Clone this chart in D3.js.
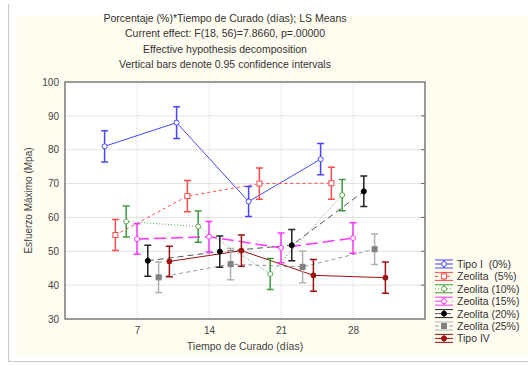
<!DOCTYPE html>
<html>
<head>
<meta charset="utf-8">
<script src="https://cdn.jsdelivr.net/npm/d3@7"></script>
<style>
body { margin: 0; background: #fff; }
text { font-family: "Liberation Sans", Arial, sans-serif; white-space: pre; }
</style>
</head>
<body>
<svg id="chart"></svg>
<script>
// tiempo de curado (días)
var days = [7, 14, 21, 28];
var yTicks = [30, 40, 50, 60, 70, 80, 90, 100];
var xTicks = [7, 14, 21, 28];

var seriesNames = ["Tipo I  (0%)", "Zeolita  (5%)", "Zeolita (10%)", "Zeolita (15%)", "Zeolita (20%)", "Zeolita (25%)", "Tipo IV"];

// LS means + half width of 0.95 CI
var tipo1 = [81.0, 88.0, 64.7, 77.2];
var tipo1Err = [4.6, 4.7, 4.4, 4.6];
var zeo5 = [54.8, 66.3, 70.0, 70.1];
var zeo5Err = [4.6, 4.6, 4.6, 4.7];
var zeo10 = [58.8, 57.3, 43.3, 66.6];
var zeo10Err = [4.6, 4.6, 4.6, 4.6];
var zeo15 = [53.6, 54.3, 51.0, 53.9];
var zeo15Err = [4.5, 4.5, 4.4, 4.5];
var zeo20 = [47.2, 49.9, 51.8, 67.7];
var zeo20Err = [4.6, 4.6, 4.6, 4.5];
var zeo25 = [42.3, 46.2, 45.4, 50.6];
var zeo25Err = [4.5, 4.6, 4.7, 4.5];
var tipo4 = [47.0, 50.2, 42.9, 42.2];
var tipo4Err = [4.5, 4.6, 4.7, 4.6];

var titles = [
    "Porcentaje (%)*Tiempo de Curado (días); LS Means",
    "Current effect: F(18, 56)=7.8660, p=.00000",
    "Effective hypothesis decomposition",
    "Vertical bars denote 0.95 confidence intervals"
];

var styles = [
    { color: "#4646ff", bar: "#4646ff", dash: null, marker: "circle", fill: "#fff" },
    { color: "#ff4a4a", bar: "#ff4a4a", dash: "3,3", marker: "square", fill: "#fff" },
    { color: "#55aa55", bar: "#3f993f", dash: "1,2", marker: "circle", fill: "#fff" },
    { color: "#ff33ff", bar: "#ff33ff", dash: "12,5", marker: "circle", fill: "#fff" },
    { color: "#555555", bar: "#222222", dash: "6,4", marker: "circle", fill: "#000" },
    { color: "#999999", bar: "#b0b0b0", dash: "4,3", marker: "square", fill: "#808080" },
    { color: "#a01010", bar: "#a01010", dash: null, marker: "circle", fill: "#a01010" }
];

var allMeans = [tipo1, zeo5, zeo10, zeo15, zeo20, zeo25, tipo4];
var allErrs = [tipo1Err, zeo5Err, zeo10Err, zeo15Err, zeo20Err, zeo25Err, tipo4Err];

var series = seriesNames.map(function (name, i) {
    return {
        name: name,
        idx: i,
        style: styles[i],
        points: days.map(function (d, j) {
            return { day: d, mean: allMeans[i][j], err: allErrs[i][j], idx: i };
        })
    };
});

var svgW = 528, svgH = 365;
var svg = d3.select("#chart").attr("width", svgW).attr("height", svgH);

// outer panel
svg.append("line").attr("x1", 8.5).attr("x2", 8.5).attr("y1", 4).attr("y2", 362)
    .attr("stroke", "#c8c8c8");
svg.append("line").attr("x1", 8).attr("x2", svgW).attr("y1", 361.5).attr("y2", 361.5)
    .attr("stroke", "#c8c8c8");
svg.append("rect").attr("x", 17).attr("y", 16).attr("width", svgW - 17).attr("height", 339)
    .attr("fill", "#fffcf0");

var plot = { left: 65, right: 425, top: 82, bottom: 319 };
var xScale = d3.scaleLinear().domain([0, 35]).range([plot.left, plot.right]);
var yScale = d3.scaleLinear().domain([30, 100]).range([plot.bottom, plot.top]);
var offsetDays = 1.05;
var px = function (p) {
    return xScale(p.day + (p.idx - 3) * offsetDays);
};

svg.append("rect")
    .attr("x", plot.left).attr("y", plot.top)
    .attr("width", plot.right - plot.left).attr("height", plot.bottom - plot.top)
    .attr("fill", "#fff");

// grid
svg.append("g").selectAll("line").data(yTicks.slice(1, -1)).join("line")
    .attr("x1", plot.left).attr("x2", plot.right)
    .attr("y1", function (d) { return yScale(d); })
    .attr("y2", function (d) { return yScale(d); })
    .attr("stroke", "#e2e2e2").attr("stroke-width", 1);
svg.append("g").selectAll("line").data(xTicks).join("line")
    .attr("x1", function (d) { return xScale(d); })
    .attr("x2", function (d) { return xScale(d); })
    .attr("y1", plot.top).attr("y2", plot.bottom)
    .attr("stroke", "#d8d8d8").attr("stroke-dasharray", "1,1");

// axes
var yAxis = d3.axisLeft(yScale).tickValues(yTicks).tickSize(0).tickPadding(6);
var yAxisG = svg.append("g").attr("transform", `translate(${plot.left},0)`).call(yAxis);
var xAxis = d3.axisBottom(xScale).tickValues(xTicks).tickSize(0).tickPadding(8);
var xAxisG = svg.append("g").attr("transform", `translate(0,${plot.bottom})`).call(xAxis);
[yAxisG, xAxisG].forEach(function (g) {
    g.select(".domain").remove();
    g.selectAll("text").attr("font-family", "Liberation Sans, Arial, sans-serif")
        .attr("font-size", 10).attr("fill", "#444");
});

// right side ticks
svg.append("g").selectAll("line").data(yTicks.slice(1, -1)).join("line")
    .attr("x1", plot.right - 4).attr("x2", plot.right)
    .attr("y1", function (d) { return yScale(d); })
    .attr("y2", function (d) { return yScale(d); })
    .attr("stroke", "#666");

// lines
var line = d3.line().x(px).y(function (p) { return yScale(p.mean); });
svg.append("g").selectAll("path").data(series).join("path")
    .attr("d", function (s) { return line(s.points); })
    .attr("fill", "none")
    .attr("stroke", function (s) { return s.style.color; })
    .attr("stroke-width", function (s) { return s.idx == 3 ? 1.5 : 1; })
    .attr("stroke-dasharray", function (s) { return s.style.dash; });

// error bars
var capW = 3.5;
var barG = svg.append("g").selectAll("g").data(series).join("g")
    .attr("stroke", function (s) { return s.style.bar; })
    .attr("stroke-width", 1.5);
barG.selectAll("path").data(function (s) { return s.points; }).join("path")
    .attr("fill", "none")
    .attr("d", function (p) {
        var x = px(p), y0 = yScale(p.mean - p.err), y1 = yScale(p.mean + p.err);
        return `M${x - capW},${y1}H${x + capW}M${x},${y1}V${y0}M${x - capW},${y0}H${x + capW}`;
    });

// markers
var drawMarker = function (g, style, x, y) {
    if (style.marker == "square") {
        g.append("rect").attr("x", x - 2.5).attr("y", y - 2.5).attr("width", 5).attr("height", 5)
            .attr("fill", style.fill).attr("stroke", style.fill == "#fff" ? style.color : style.fill);
    } else {
        g.append("circle").attr("cx", x).attr("cy", y).attr("r", 2.5)
            .attr("fill", style.fill).attr("stroke", style.fill == "#fff" ? style.color : style.fill);
    }
};
var markG = svg.append("g");
series.forEach(function (s) {
    s.points.forEach(function (p) {
        drawMarker(markG, s.style, px(p), yScale(p.mean));
    });
});

// frame
svg.append("rect")
    .attr("x", plot.left).attr("y", plot.top)
    .attr("width", plot.right - plot.left).attr("height", plot.bottom - plot.top)
    .attr("fill", "none").attr("stroke", "#7a7a7a").attr("stroke-width", 1.5);

// titles
svg.append("g").selectAll("text").data(titles).join("text")
    .attr("x", 225)
    .attr("y", function (d, i) { return 22 + i * 15.3; })
    .attr("text-anchor", "middle")
    .attr("font-size", 10.5)
    .attr("fill", "#333")
    .text(function (d) { return d; });

svg.append("text")
    .attr("transform", `translate(32,${(plot.top + plot.bottom) / 2}) rotate(-90)`)
    .attr("text-anchor", "middle").attr("font-size", 10).attr("fill", "#444")
    .text("Esfuerzo Máximo (Mpa)");
svg.append("text")
    .attr("x", (plot.left + plot.right) / 2).attr("y", 350)
    .attr("text-anchor", "middle").attr("font-size", 10.5).attr("fill", "#444")
    .text("Tiempo de Curado (días)");

// legend
var legY = 264, legStep = 12.4, legX = 435, legW = 18;
var legG = svg.append("g").selectAll("g").data(series).join("g")
    .attr("transform", function (s, i) { return `translate(${legX},${legY + i * legStep})`; });
legG.each(function (s) {
    var g = d3.select(this);
    g.append("path")
        .attr("d", `M0,-4H${legW}M0,4H${legW}M${legW / 2},-4V4`)
        .attr("stroke", s.style.bar).attr("stroke-width", 1).attr("fill", "none");
    g.append("line").attr("x1", 0).attr("x2", legW)
        .attr("stroke", s.style.color).attr("stroke-dasharray", s.style.dash);
    drawMarker(g, s.style, legW / 2, 0);
    g.append("text").attr("x", legW + 4).attr("y", 4)
        .attr("font-size", 10.5).attr("fill", "#333").text(s.name);
});
</script>
</body>
</html>
